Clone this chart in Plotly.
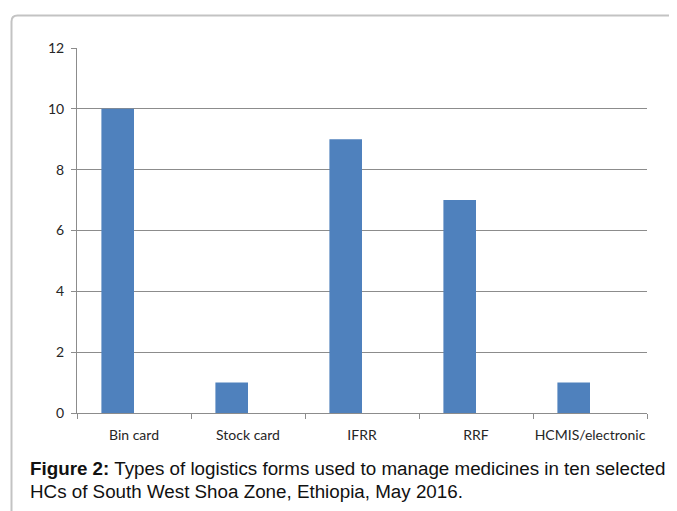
import plotly.graph_objects as go

categories = ["Bin card", "Stock card", "IFRR", "RRF", "HCMIS/electronic"]
values = [10, 1, 9, 7, 1]
y_ticks = [0, 2, 4, 6, 8, 10, 12]

W, H = 677, 511
OFF = 8  # page body margin
def px(x):
    return (x - OFF) / W
def py(y):
    return 1 - (y - OFF) / H

# plot area in page pixels
X0, X1 = 77, 647
Y0, Y1 = 48, 413

grid = "#8c8c8c"
txt = "#262626"
tick_font = dict(family="Lato, Open Sans, sans-serif", size=14, color=txt)

fig = go.Figure()
fig.add_trace(go.Bar(
    x=categories, y=values,
    marker=dict(color="#4F81BD", line=dict(width=0)),
    width=0.286, offset=-0.286,
    hoverinfo="x+y",
))

fig.update_layout(
    template="none",
    width=W, height=H,
    margin=dict(l=0, r=0, t=0, b=0, autoexpand=False),
    paper_bgcolor="white", plot_bgcolor="white",
    showlegend=False,
    xaxis=dict(
        domain=[px(X0), px(X1)], automargin=False,
        type="category", range=[-0.5, 4.5],
        tickson="boundaries", ticks="outside", ticklen=5, tickcolor=grid, tickwidth=1,
        showline=True, linecolor=grid, linewidth=1,
        showgrid=False, zeroline=False, tickangle=0,
        tickfont=tick_font, ticklabelstandoff=9,
    ),
    yaxis=dict(
        domain=[py(Y1), py(Y0)], automargin=False,
        range=[0, 12], tickvals=y_ticks,
        ticks="outside", ticklen=5, tickcolor=grid, tickwidth=1,
        showline=True, linecolor=grid, linewidth=1,
        showgrid=True, gridcolor=grid, gridwidth=1,
        zeroline=False,
        tickfont=tick_font, ticklabelstandoff=4,
    ),
)

# rounded border box
r = 6
x_l, y_t = 11.5, 15.5
path = (f"M {px(x_l)},{py(H + 30)} L {px(x_l)},{py(y_t + r)} "
        f"Q {px(x_l)},{py(y_t)} {px(x_l + r)},{py(y_t)} L {px(W + 30)},{py(y_t)}")
fig.add_shape(type="path", path=path, xref="paper", yref="paper",
              line=dict(color="#c3c3c3", width=2))

cap_font = dict(family="Liberation Sans, Arial", size=18.8, color="#111111")
fig.add_annotation(
    text="<b>Figure 2:</b> Types of logistics forms used to manage medicines in ten selected",
    xref="paper", yref="paper", x=px(28), y=py(468), xanchor="left", yanchor="middle",
    showarrow=False, font=cap_font,
)
fig.add_annotation(
    text="HCs of South West Shoa Zone, Ethiopia, May 2016.",
    xref="paper", yref="paper", x=px(28), y=py(491), xanchor="left", yanchor="middle",
    showarrow=False, font=cap_font,
)

fig.write_html("out.html")
